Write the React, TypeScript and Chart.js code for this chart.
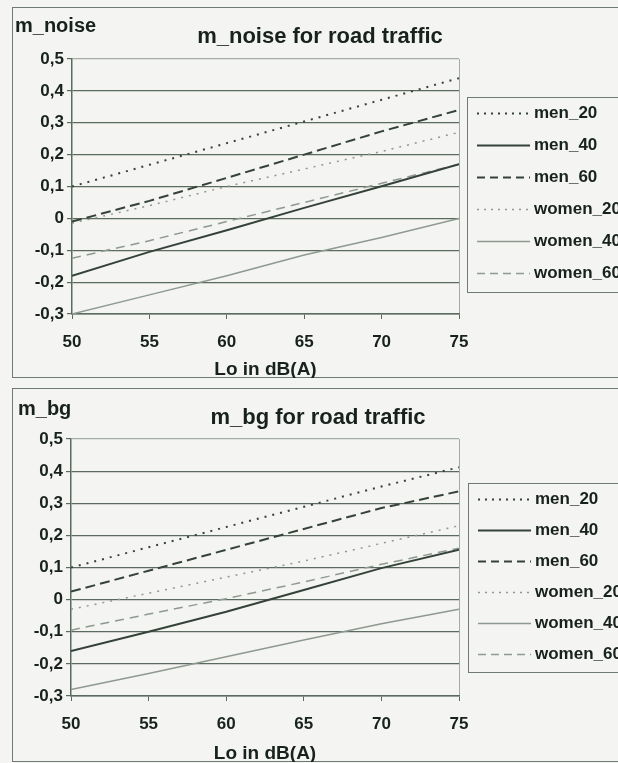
import React, { useEffect, useRef } from "react";
import { Chart, registerables } from "chart.js";

Chart.register(...registerables);

// ---- data ----
const xValues = [50, 55, 60, 65, 70, 75];
const seriesNames = ["men_20", "men_40", "men_60", "women_20", "women_40", "women_60"];
const yTickValues = [-0.3, -0.2, -0.1, 0, 0.1, 0.2, 0.3, 0.4, 0.5];

const noiseMen20 = [0.1, 0.168, 0.236, 0.304, 0.372, 0.44];
const noiseMen40 = [-0.18, -0.105, -0.037, 0.033, 0.101, 0.17];
const noiseMen60 = [-0.01, 0.055, 0.127, 0.2, 0.273, 0.34];
const noiseWomen20 = [-0.015, 0.04, 0.1, 0.155, 0.21, 0.27];
const noiseWomen40 = [-0.3, -0.24, -0.18, -0.115, -0.06, 0.0];
const noiseWomen60 = [-0.125, -0.07, -0.01, 0.05, 0.11, 0.17];

const bgMen20 = [0.1, 0.163, 0.226, 0.289, 0.352, 0.412];
const bgMen40 = [-0.16, -0.1, -0.038, 0.03, 0.098, 0.155];
const bgMen60 = [0.025, 0.09, 0.155, 0.22, 0.285, 0.337];
const bgWomen20 = [-0.03, 0.02, 0.07, 0.12, 0.175, 0.23];
const bgWomen40 = [-0.28, -0.23, -0.178, -0.126, -0.075, -0.03];
const bgWomen60 = [-0.095, -0.045, 0.003, 0.055, 0.11, 0.16];

// ---- styles ----
const FONT = "'Liberation Sans', Arial, sans-serif";
const BG = "#f4f4f2";
const TEXT = "#18221c";
const GRID = "#5b6a5e";
const GRID_LIGHT = "#a3aca5";
const DARK = "#35423a";
const LIGHT = "#8e9991";

const seriesStyles = [
  { color: DARK, width: 2, dash: [2, 6] },
  { color: DARK, width: 2, dash: [] as number[] },
  { color: DARK, width: 2, dash: [10, 5] },
  { color: LIGHT, width: 1.5, dash: [2, 6] },
  { color: LIGHT, width: 1.5, dash: [] as number[] },
  { color: LIGHT, width: 1.5, dash: [9, 6] },
];
const legendDash = [[2, 5], [], [8, 5], [2, 5], [], [8, 5]];

const fmt = (v: number) =>
  Math.abs(v) < 1e-9 ? "0" : v.toFixed(1).replace(".", ",");

const decoPlugin = {
  id: "deco",
  beforeDraw(chart: any) {
    const { ctx, width, height } = chart;
    ctx.save();
    ctx.fillStyle = BG;
    ctx.fillRect(0, 0, width, height);
    ctx.strokeStyle = "#6f7a72";
    ctx.lineWidth = 1;
    ctx.strokeRect(0.5, 0.5, width + 10, height - 1);
    ctx.restore();
  },
  afterDraw(chart: any, _args: any, opts: any) {
    const { ctx, width } = chart;
    ctx.save();
    ctx.fillStyle = TEXT;
    ctx.textBaseline = "middle";
    ctx.font = `bold 22px ${FONT}`;
    ctx.textAlign = "center";
    ctx.fillText(opts.title, opts.titleX, opts.titleY);
    ctx.font = `bold 20px ${FONT}`;
    ctx.textAlign = "left";
    ctx.fillText(opts.yLabel, opts.yLabelX, opts.yLabelY);

    // legend
    ctx.strokeStyle = "#6f7a72";
    ctx.lineWidth = 1;
    ctx.strokeRect(opts.legendX + 0.5, opts.legendTop + 0.5, width, opts.legendBottom - opts.legendTop);
    chart.data.datasets.forEach((ds: any, i: number) => {
      const y = opts.itemY0 + i * opts.itemStep;
      ctx.beginPath();
      ctx.setLineDash(legendDash[i]);
      ctx.strokeStyle = ds.borderColor;
      ctx.lineWidth = ds.borderWidth;
      ctx.moveTo(opts.legendX + 10, y + 0.5);
      ctx.lineTo(opts.legendX + 63, y + 0.5);
      ctx.stroke();
      ctx.setLineDash([]);
      ctx.fillStyle = TEXT;
      ctx.font = `bold 17px ${FONT}`;
      ctx.textAlign = "left";
      ctx.fillText(ds.label, opts.legendX + 67, y);
    });
    ctx.restore();
  },
};

type PanelSpec = {
  left: number;
  top: number;
  width: number;
  height: number;
  series: number[][];
  plotLeft: number;
  plotRight: number;
  plotTop: number;
  plotBottom: number;
  deco: any;
};

function ChartPanel({ spec }: { spec: PanelSpec }) {
  const ref = useRef<HTMLCanvasElement>(null);
  useEffect(() => {
    const datasets = spec.series.map((vals, i) => ({
      label: seriesNames[i],
      data: xValues.map((x, j) => ({ x, y: vals[j] })),
      borderColor: seriesStyles[i].color,
      borderWidth: seriesStyles[i].width,
      borderDash: seriesStyles[i].dash,
      pointRadius: 0,
      fill: false,
      tension: 0,
    }));
    const chart = new Chart(ref.current!, {
      type: "line",
      data: { datasets },
      plugins: [decoPlugin],
      options: {
        responsive: false,
        animation: false,
        events: [],
        layout: {
          padding: {
            left: 0,
            top: spec.plotTop,
            right: spec.width - spec.plotRight,
            bottom: 0,
          },
        },
        plugins: {
          legend: { display: false },
          title: { display: false },
          tooltip: { enabled: false },
          deco: spec.deco,
        } as any,
        scales: {
          x: {
            type: "linear",
            min: 50,
            max: 75,
            afterFit: (s: any) => {
              s.height = spec.height - spec.plotBottom;
            },
            ticks: {
              stepSize: 5,
              color: TEXT,
              padding: 13,
              font: { family: FONT, size: 17, weight: "bold" },
            },
            grid: {
              display: true,
              drawOnChartArea: true,
              drawTicks: true,
              tickLength: 5,
              color: (c: any) => (c.tick && c.tick.value === 75 ? GRID_LIGHT : "rgba(0,0,0,0)"),
              tickColor: GRID,
            },
            border: { display: true, color: GRID, width: 1.5 },
            title: {
              display: true,
              text: "Lo in dB(A)",
              color: TEXT,
              font: { family: FONT, size: 19, weight: "bold" },
              padding: { top: 0, bottom: -3 },
            },
          },
          y: {
            type: "linear",
            min: -0.3,
            max: 0.5,
            afterFit: (s: any) => {
              s.width = spec.plotLeft;
            },
            afterBuildTicks: (s: any) => {
              s.ticks = yTickValues.map((v) => ({ value: v }));
            },
            ticks: {
              color: TEXT,
              padding: 3,
              font: { family: FONT, size: 17, weight: "bold" },
              callback: (v: any) => fmt(Number(v)),
            },
            grid: {
              display: true,
              drawOnChartArea: true,
              drawTicks: true,
              tickLength: 5,
              lineWidth: 1.2,
              color: (c: any) => (c.tick && c.tick.value > 0.45 ? GRID_LIGHT : GRID),
              tickColor: GRID,
            },
            border: { display: true, color: GRID, width: 1.5 },
          },
        },
      } as any,
    });
    return () => chart.destroy();
  }, []);
  return (
    <div style={{ position: "absolute", left: spec.left, top: spec.top, width: spec.width, height: spec.height }}>
      <canvas ref={ref} width={spec.width} height={spec.height} style={{ display: "block" }} />
    </div>
  );
}

const topSpec: PanelSpec = {
  left: 12,
  top: 7,
  width: 640,
  height: 371,
  series: [noiseMen20, noiseMen40, noiseMen60, noiseWomen20, noiseWomen40, noiseWomen60],
  plotLeft: 60,
  plotRight: 447,
  plotTop: 52,
  plotBottom: 307,
  deco: {
    title: "m_noise for road traffic",
    titleX: 308,
    titleY: 30,
    yLabel: "m_noise",
    yLabelX: 3,
    yLabelY: 19,
    legendX: 455,
    legendTop: 90,
    legendBottom: 285,
    itemY0: 106,
    itemStep: 32,
  },
};

const bottomSpec: PanelSpec = {
  left: 12,
  top: 388,
  width: 640,
  height: 374,
  series: [bgMen20, bgMen40, bgMen60, bgWomen20, bgWomen40, bgWomen60],
  plotLeft: 59,
  plotRight: 447,
  plotTop: 51,
  plotBottom: 308,
  deco: {
    title: "m_bg for road traffic",
    titleX: 306,
    titleY: 30,
    yLabel: "m_bg",
    yLabelX: 6,
    yLabelY: 21,
    legendX: 456,
    legendTop: 95,
    legendBottom: 284,
    itemY0: 111,
    itemStep: 31,
  },
};

export default function App() {
  return (
    <div
      style={{
        position: "absolute",
        left: 0,
        top: 0,
        width: 618,
        height: 763,
        overflow: "hidden",
        background: BG,
      }}
    >
      <ChartPanel spec={topSpec} />
      <ChartPanel spec={bottomSpec} />
    </div>
  );
}
